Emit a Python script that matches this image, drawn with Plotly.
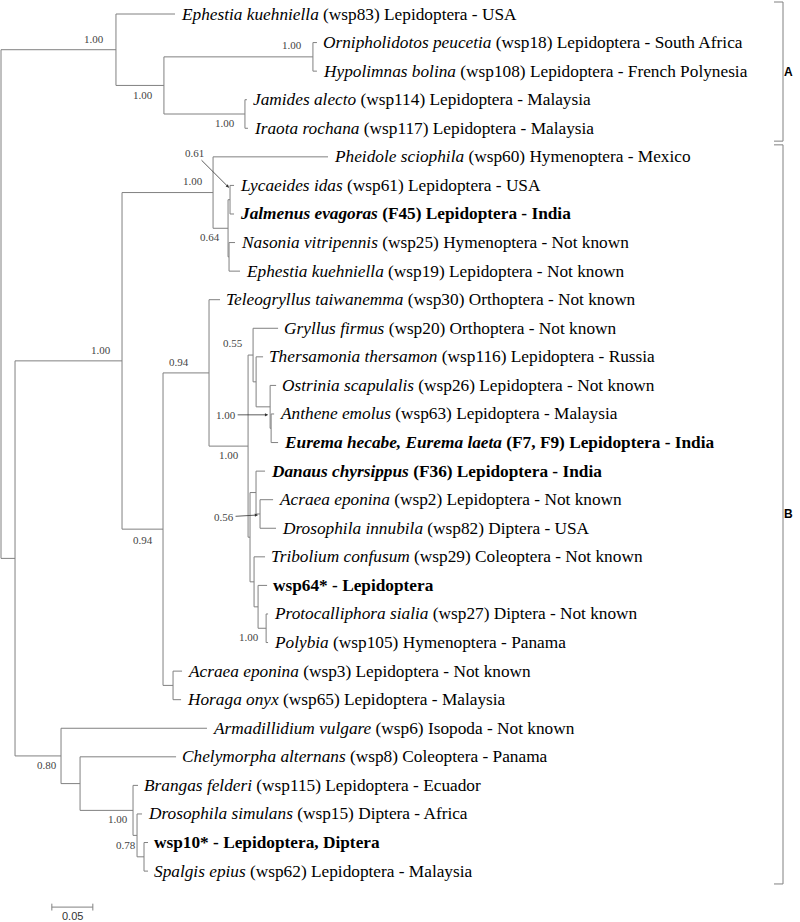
import plotly.graph_objects as go

# ---- tips, top to bottom ------------------------------------------------
TIP_KEYS = ["eph83", "orn", "hyp", "jam", "ira", "phe", "lyc", "jal", "nas", "eph19",
            "tel", "gry", "the", "ost", "ant", "eur", "dan", "acr2", "dri", "tri",
            "w64", "pro", "pol", "acr3", "hor", "arm", "che", "bra", "drs", "w10", "spa"]
TIP_SPECIES = ["Ephestia kuehniella", "Ornipholidotos peucetia", "Hypolimnas bolina",
               "Jamides alecto", "Iraota rochana", "Pheidole sciophila", "Lycaeides idas",
               "Jalmenus evagoras", "Nasonia vitripennis", "Ephestia kuehniella",
               "Teleogryllus taiwanemma", "Gryllus firmus", "Thersamonia thersamon",
               "Ostrinia scapulalis", "Anthene emolus", "Eurema hecabe, Eurema laeta",
               "Danaus chyrsippus", "Acraea eponina", "Drosophila innubila",
               "Tribolium confusum", "", "Protocalliphora sialia", "Polybia",
               "Acraea eponina", "Horaga onyx", "Armadillidium vulgare",
               "Chelymorpha alternans", "Brangas felderi", "Drosophila simulans", "",
               "Spalgis epius"]
TIP_REST = ["(wsp83) Lepidoptera - USA", "(wsp18) Lepidoptera - South Africa",
            "(wsp108) Lepidoptera - French Polynesia", "(wsp114) Lepidoptera - Malaysia",
            "(wsp117) Lepidoptera - Malaysia", "(wsp60) Hymenoptera - Mexico",
            "(wsp61) Lepidoptera - USA", "(F45) Lepidoptera - India",
            "(wsp25) Hymenoptera - Not known", "(wsp19) Lepidoptera - Not known",
            "(wsp30) Orthoptera - Not known", "(wsp20) Orthoptera - Not known",
            "(wsp116) Lepidoptera - Russia", "(wsp26) Lepidoptera - Not known",
            "(wsp63) Lepidoptera - Malaysia", "(F7, F9) Lepidoptera - India",
            "(F36) Lepidoptera - India", "(wsp2) Lepidoptera - Not known",
            "(wsp82) Diptera - USA", "(wsp29) Coleoptera - Not known",
            "wsp64* - Lepidoptera", "(wsp27) Diptera - Not known",
            "(wsp105) Hymenoptera - Panama", "(wsp3) Lepidoptera - Not known",
            "(wsp65) Lepidoptera - Malaysia", "(wsp6) Isopoda - Not known",
            "(wsp8) Coleoptera - Panama", "(wsp115) Lepidoptera - Ecuador",
            "(wsp15) Diptera - Africa", "wsp10* - Lepidoptera, Diptera",
            "(wsp62) Lepidoptera - Malaysia"]
TIP_BOLD = {"jal", "eur", "dan", "w64", "w10"}

# ---- tree: node, parent, branch length (substitutions per site) ----------
NODES = ["A", "eph83", "A2", "OH", "orn", "hyp", "JI", "jam", "ira",
         "B", "X", "PC", "phe", "P", "LJ", "lyc", "jal", "NE", "nas", "eph19",
         "Q", "R", "tel", "S", "T1", "gry", "T2", "the", "T3", "ost", "T4", "ant", "eur",
         "L", "D1", "dan", "D2", "acr2", "dri", "E", "tri", "E2", "w64", "E3", "pro", "pol",
         "AH", "acr3", "hor", "Y", "arm", "Z", "che", "W", "bra", "V", "drs", "U", "w10", "spa"]
PARENTS = ["root", "A", "A", "A2", "OH", "OH", "A2", "JI", "JI",
           "root", "B", "X", "PC", "PC", "P", "LJ", "LJ", "P", "NE", "NE",
           "X", "Q", "R", "R", "S", "T1", "T1", "T2", "T2", "T3", "T3", "T4", "T4",
           "S", "L", "D1", "D1", "D2", "D2", "L", "E", "E", "E2", "E2", "E3", "E3",
           "Q", "AH", "AH", "B", "Y", "Y", "Z", "Z", "W", "W", "V", "V", "U", "U"]
LENGTHS = [0.1402, 0.0720, 0.0585, 0.1817, 0.0049, 0.0049, 0.0988, 0.0024, 0.0037,
           0.0171, 0.1305, 0.1110, 0.1402, 0.0183, 0.0024, 0.0049, 0.0049, 0.0012, 0.0073, 0.0134,
           0.0500, 0.0561, 0.0134, 0.0476, 0.0061, 0.0305, 0.0037, 0.0085, 0.0171, 0.0073,
           0.0012, 0.0037, 0.0085,
           0.0024, 0.0073, 0.0110, 0.0049, 0.0159, 0.0195, 0.0049, 0.0134, 0.0049, 0.0110,
           0.0098, 0.0024, 0.0024,
           0.0122, 0.0110, 0.0098, 0.0561, 0.1780, 0.0232, 0.1171, 0.0646, 0.0061, 0.0049,
           0.0061, 0.0085, 0.0049, 0.0049]

# ---- posterior support --------------------------------------------------
SUPPORT_NODE = ["A", "A2", "OH", "JI", "LJ", "PC", "P", "X", "R", "T1", "T3", "S",
                "D2", "E3", "Q", "Y", "W", "V"]
SUPPORT_VALUE = ["1.00", "1.00", "1.00", "1.00", "0.61", "1.00", "0.64", "1.00", "0.94",
                 "0.55", "1.00", "1.00", "0.56", "1.00", "0.94", "0.80", "1.00", "0.78"]

SCALE_LEN = 0.05

# label placement (px offsets from node; arrows give tail offset)
LABEL_POS = {"A": (-22, -11), "A2": (-21, 10), "OH": (-21, -12), "JI": (-20, 9),
             "PC": (-20, -12), "P": (-18, 9), "X": (-21, -11), "R": (-30, -11),
             "T1": (-20, -12), "S": (-19, 9), "E3": (-17, 9), "Q": (-20, 11),
             "Y": (-14, 9), "W": (-15, 9), "V": (-11, 10)}
ARROWS = {"LJ": (-1, -12, -35, -35), "T3": (-2, 8, -42, 0), "D2": (-2, 1, -34, 2)}

# ---- layout of the tree -------------------------------------------------
children = {}
for n, p in zip(NODES, PARENTS):
    children.setdefault(p, []).append(n)
blen = dict(zip(NODES, LENGTHS))

xpos, ypos = {"root": 0.0}, {}
for n, p in zip(NODES, PARENTS):
    xpos[n] = xpos[p] + blen[n]
for i, k in enumerate(TIP_KEYS):
    ypos[k] = i


def place_y(n):
    if n in ypos:
        return ypos[n]
    ys = [place_y(c) for c in children[n]]
    ypos[n] = (ys[0] + ys[-1]) / 2
    return ypos[n]


place_y("root")

lx, ly = [], []
for n, p in zip(NODES, PARENTS):
    lx += [xpos[p], xpos[n], None]
    ly += [ypos[n], ypos[n], None]
for n, ch in children.items():
    lx += [xpos[n], xpos[n], None]
    ly += [ypos[ch[0]], ypos[ch[-1]], None]

LINE = "#808080"
fig = go.Figure()
fig.add_trace(go.Scatter(x=lx, y=ly, mode="lines", line=dict(color=LINE, width=1),
                         hoverinfo="skip", showlegend=False))

# scale bar
sx0 = 0.062
sy = len(TIP_KEYS) - 1 + 1.26
fig.add_trace(go.Scatter(x=[sx0, sx0 + SCALE_LEN], y=[sy, sy], mode="lines",
                         line=dict(color=LINE, width=1), hoverinfo="skip", showlegend=False))
for xx in (sx0, sx0 + SCALE_LEN):
    fig.add_shape(type="line", xref="x", yref="y", x0=xx, x1=xx, y0=sy - 0.12, y1=sy + 0.12,
                  line=dict(color=LINE, width=1))
fig.add_annotation(x=sx0 + SCALE_LEN / 2, y=sy, yshift=-9, text=f"{SCALE_LEN:.2f}",
                   showarrow=False, font=dict(family="Liberation Sans", size=11, color="#333"))

# tip labels
for k, sp, rest in zip(TIP_KEYS, TIP_SPECIES, TIP_REST):
    txt = (f"<i>{sp}</i> {rest}" if sp else rest)
    if k in TIP_BOLD:
        txt = f"<b>{txt}</b>"
    fig.add_annotation(x=xpos[k], y=ypos[k], text=txt, showarrow=False, xanchor="left",
                       yanchor="middle", xshift=4,
                       font=dict(family="Liberation Serif", size=17.3, color="black"))

# support values
for n, v in zip(SUPPORT_NODE, SUPPORT_VALUE):
    f = dict(family="Liberation Serif", size=11, color="#444")
    if n in ARROWS:
        dx, dy, ax, ay = ARROWS[n]
        fig.add_annotation(x=xpos[n], y=ypos[n], xshift=dx, yshift=-dy, text=v,
                           showarrow=True, ax=ax, ay=ay, arrowhead=2, arrowsize=0.8,
                           arrowwidth=0.8, arrowcolor="#333", standoff=0, font=f)
    else:
        dx, dy = LABEL_POS[n]
        fig.add_annotation(x=xpos[n], y=ypos[n], xshift=dx, yshift=-dy, text=v,
                           showarrow=False, font=f)

# clade brackets
for lab, first, last in (("A", 0, 4), ("B", 5, 30)):
    y0, y1 = first - 0.42, last + 0.45
    bx = 783 / 800
    for xa, xb, ya, yb in ((bx, bx, y0, y1), (bx - 9 / 800, bx, y0, y0), (bx - 9 / 800, bx, y1, y1)):
        fig.add_shape(type="line", xref="paper", yref="y", x0=xa, x1=xb, y0=ya, y1=yb,
                      line=dict(color=LINE, width=1))
    fig.add_annotation(xref="paper", x=795 / 800, y=(y0 + y1) / 2, text=f"<b>{lab}</b>",
                       showarrow=False, font=dict(family="Liberation Sans", size=12, color="black"))

px = SCALE_LEN / 41
fig.update_layout(width=800, height=922, margin=dict(l=0, r=0, t=0, b=0),
                  paper_bgcolor="white", plot_bgcolor="white")
fig.update_xaxes(range=[-1 * px, 799 * px], visible=False)
fig.update_yaxes(range=[(922 - 14) / 28.57, -14 / 28.57], visible=False)
fig.write_html("out.html", config={"displayModeBar": False},
               post_script="document.body.style.margin='0';")
